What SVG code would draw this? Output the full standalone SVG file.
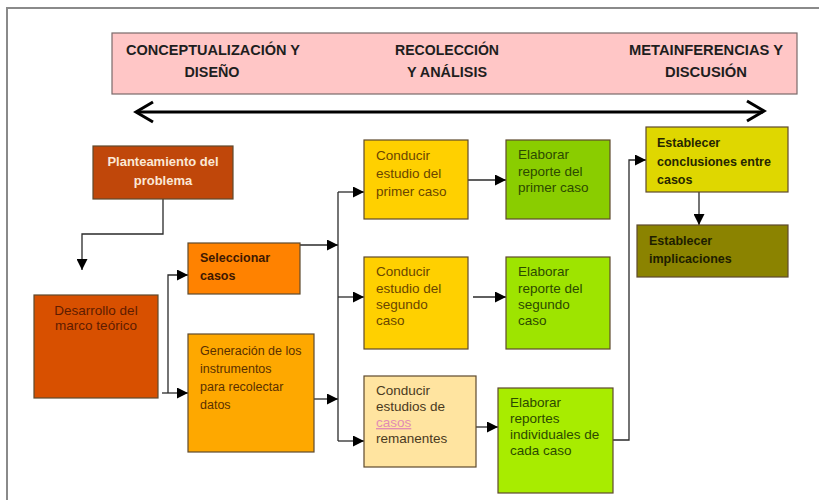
<svg xmlns="http://www.w3.org/2000/svg" width="819" height="500" viewBox="0 0 819 500">
<style>
.box{stroke:#5e4a2e;stroke-width:1.2}
.t{font-family:"Liberation Sans",Arial,sans-serif;font-size:13.5px}
.b{font-family:"Liberation Sans",Arial,sans-serif;font-size:12.5px;font-weight:bold}
.h{font-family:"Liberation Sans",Arial,sans-serif;font-size:14px;font-weight:bold;fill:#1e1e1e;text-anchor:middle}
.c{fill:none;stroke:#2a2a2a;stroke-width:1.3}
</style>
<defs>
<marker id="ah" markerUnits="userSpaceOnUse" markerWidth="11" markerHeight="11" refX="11" refY="5.5" orient="auto" viewBox="0 0 11 11">
<path d="M0,0 L11,5.5 L0,11 z" fill="#000"/>
</marker>
</defs>
<rect width="819" height="500" fill="#ffffff"/>
<path d="M7,510 L7,8 L819,8" fill="none" stroke="#8a8a8a" stroke-width="2"/>

<g id="banner">
<rect x="112" y="33" width="685" height="61" fill="#ffc6c6" stroke="#7a6a6a" stroke-width="1.2"/>
<text class="h" x="213" y="55" textLength="174" lengthAdjust="spacingAndGlyphs">CONCEPTUALIZACIÓN Y</text>
<text class="h" x="212" y="77" textLength="55" lengthAdjust="spacingAndGlyphs">DISEÑO</text>
<text class="h" x="447" y="55" textLength="104" lengthAdjust="spacingAndGlyphs">RECOLECCIÓN</text>
<text class="h" x="447" y="77" textLength="80" lengthAdjust="spacingAndGlyphs">Y ANÁLISIS</text>
<text class="h" x="706" y="55" textLength="154" lengthAdjust="spacingAndGlyphs">METAINFERENCIAS Y</text>
<text class="h" x="706" y="77" textLength="82" lengthAdjust="spacingAndGlyphs">DISCUSIÓN</text>
</g>

<g id="timeline">
<line x1="137" y1="112" x2="763" y2="112" stroke="#000" stroke-width="3"/>
<polyline points="153,102 136,112 153,122" fill="none" stroke="#000" stroke-width="3"/>
<polyline points="747,101 764,111 747,121" fill="none" stroke="#000" stroke-width="3"/>
</g>

<g id="connectors">
<path class="c" d="M163,199 L163,234 L82,234 L82,270" marker-end="url(#ah)"/>
<path class="c" d="M168,393 L168,275 L188,275" marker-end="url(#ah)"/>
<path class="c" d="M162,393 L188,393" marker-end="url(#ah)"/>
<path class="c" d="M300,245 L338,245" marker-end="url(#ah)"/>
<path class="c" d="M311,399 L338,399" marker-end="url(#ah)"/>
<path class="c" d="M338,192 L338,441"/>
<path class="c" d="M338,192 L364,192" marker-end="url(#ah)"/>
<path class="c" d="M338,297 L364,297" marker-end="url(#ah)"/>
<path class="c" d="M338,441 L364,441" marker-end="url(#ah)"/>
<path class="c" d="M466,180 L506,180" marker-end="url(#ah)"/>
<path class="c" d="M473,297 L506,297" marker-end="url(#ah)"/>
<path class="c" d="M473,427 L498,427" marker-end="url(#ah)"/>
<path class="c" d="M613,440 L629,440 L629,160 L646,160" marker-end="url(#ah)"/>
<path class="c" d="M699,192 L699,225" marker-end="url(#ah)"/>
</g>

<g id="planteamiento">
<rect class="box" x="93" y="146" width="140" height="53" fill="#c0470a"/>
<text class="b" x="163" y="166" text-anchor="middle" fill="#fbe8d6" style="font-size:13px">Planteamiento del</text>
<text class="b" x="163" y="185" text-anchor="middle" fill="#fbe8d6" style="font-size:13px">problema</text>
</g>

<g id="desarrollo">
<rect class="box" x="34" y="295" width="124" height="103" fill="#d85000"/>
<text class="t" x="96" y="315" text-anchor="middle" fill="#5e1c00">Desarrollo del</text>
<text class="t" x="96" y="330" text-anchor="middle" fill="#5e1c00">marco teórico</text>
</g>

<g id="seleccionar">
<rect class="box" x="188" y="243" width="112" height="51" fill="#ff8200"/>
<text class="b" x="200" y="262" fill="#3e1800">Seleccionar</text>
<text class="b" x="200" y="280" fill="#3e1800">casos</text>
</g>

<g id="generacion">
<rect class="box" x="188" y="334" width="126" height="118" fill="#fea800"/>
<text class="t" x="200" y="355" fill="#5a3000" style="font-size:12.5px">Generación de los</text>
<text class="t" x="200" y="373" fill="#5a3000" style="font-size:12.5px">instrumentos</text>
<text class="t" x="200" y="391" fill="#5a3000" style="font-size:12.5px">para recolectar</text>
<text class="t" x="200" y="409" fill="#5a3000" style="font-size:12.5px">datos</text>
</g>

<g id="conducir1">
<rect class="box" x="364" y="140" width="104" height="79" fill="#ffd000"/>
<text class="t" x="376" y="160" fill="#6a4600">Conducir</text>
<text class="t" x="376" y="178" fill="#6a4600">estudio del</text>
<text class="t" x="376" y="196" fill="#6a4600">primer caso</text>
</g>

<g id="elaborar1">
<rect class="box" x="506" y="140" width="104" height="79" fill="#8acd00"/>
<text class="t" x="518" y="159" fill="#2c4a00">Elaborar</text>
<text class="t" x="518" y="176" fill="#2c4a00">reporte del</text>
<text class="t" x="518" y="192" fill="#2c4a00">primer caso</text>
</g>

<g id="conducir2">
<rect class="box" x="364" y="257" width="104" height="92" fill="#ffd000"/>
<text class="t" x="376" y="276" fill="#6a4600">Conducir</text>
<text class="t" x="376" y="293" fill="#6a4600">estudio del</text>
<text class="t" x="376" y="309" fill="#6a4600">segundo</text>
<text class="t" x="376" y="325" fill="#6a4600">caso</text>
</g>

<g id="elaborar2">
<rect class="box" x="506" y="257" width="104" height="92" fill="#9ee400"/>
<text class="t" x="518" y="276" fill="#2c4a00">Elaborar</text>
<text class="t" x="518" y="293" fill="#2c4a00">reporte del</text>
<text class="t" x="518" y="309" fill="#2c4a00">segundo</text>
<text class="t" x="518" y="325" fill="#2c4a00">caso</text>
</g>

<g id="conducir3">
<rect class="box" x="364" y="376" width="112" height="91" fill="#ffe4a0"/>
<text class="t" x="376" y="395" fill="#4a3a1e">Conducir</text>
<text class="t" x="376" y="411" fill="#4a3a1e">estudios de</text>
<text class="t" x="376" y="427" fill="#e28cb4" text-decoration="underline">casos</text>
<text class="t" x="376" y="443" fill="#4a3a1e">remanentes</text>
</g>

<g id="elaborar3">
<rect class="box" x="498" y="388" width="115" height="105" fill="#a8ec00"/>
<text class="t" x="510" y="407" fill="#2c4a00">Elaborar</text>
<text class="t" x="510" y="423" fill="#2c4a00">reportes</text>
<text class="t" x="510" y="439" fill="#2c4a00">individuales de</text>
<text class="t" x="510" y="455" fill="#2c4a00">cada caso</text>
</g>

<g id="conclusiones">
<rect class="box" x="646" y="127" width="142" height="65" fill="#dfd700"/>
<text class="b" x="657" y="147" fill="#262600">Establecer</text>
<text class="b" x="657" y="166" fill="#262600">conclusiones entre</text>
<text class="b" x="657" y="184" fill="#262600">casos</text>
</g>

<g id="implicaciones">
<rect class="box" x="637" y="225" width="151" height="52" fill="#8b8300"/>
<text class="b" x="649" y="245" fill="#1e1e00">Establecer</text>
<text class="b" x="649" y="263" fill="#1e1e00">implicaciones</text>
</g>
</svg>
